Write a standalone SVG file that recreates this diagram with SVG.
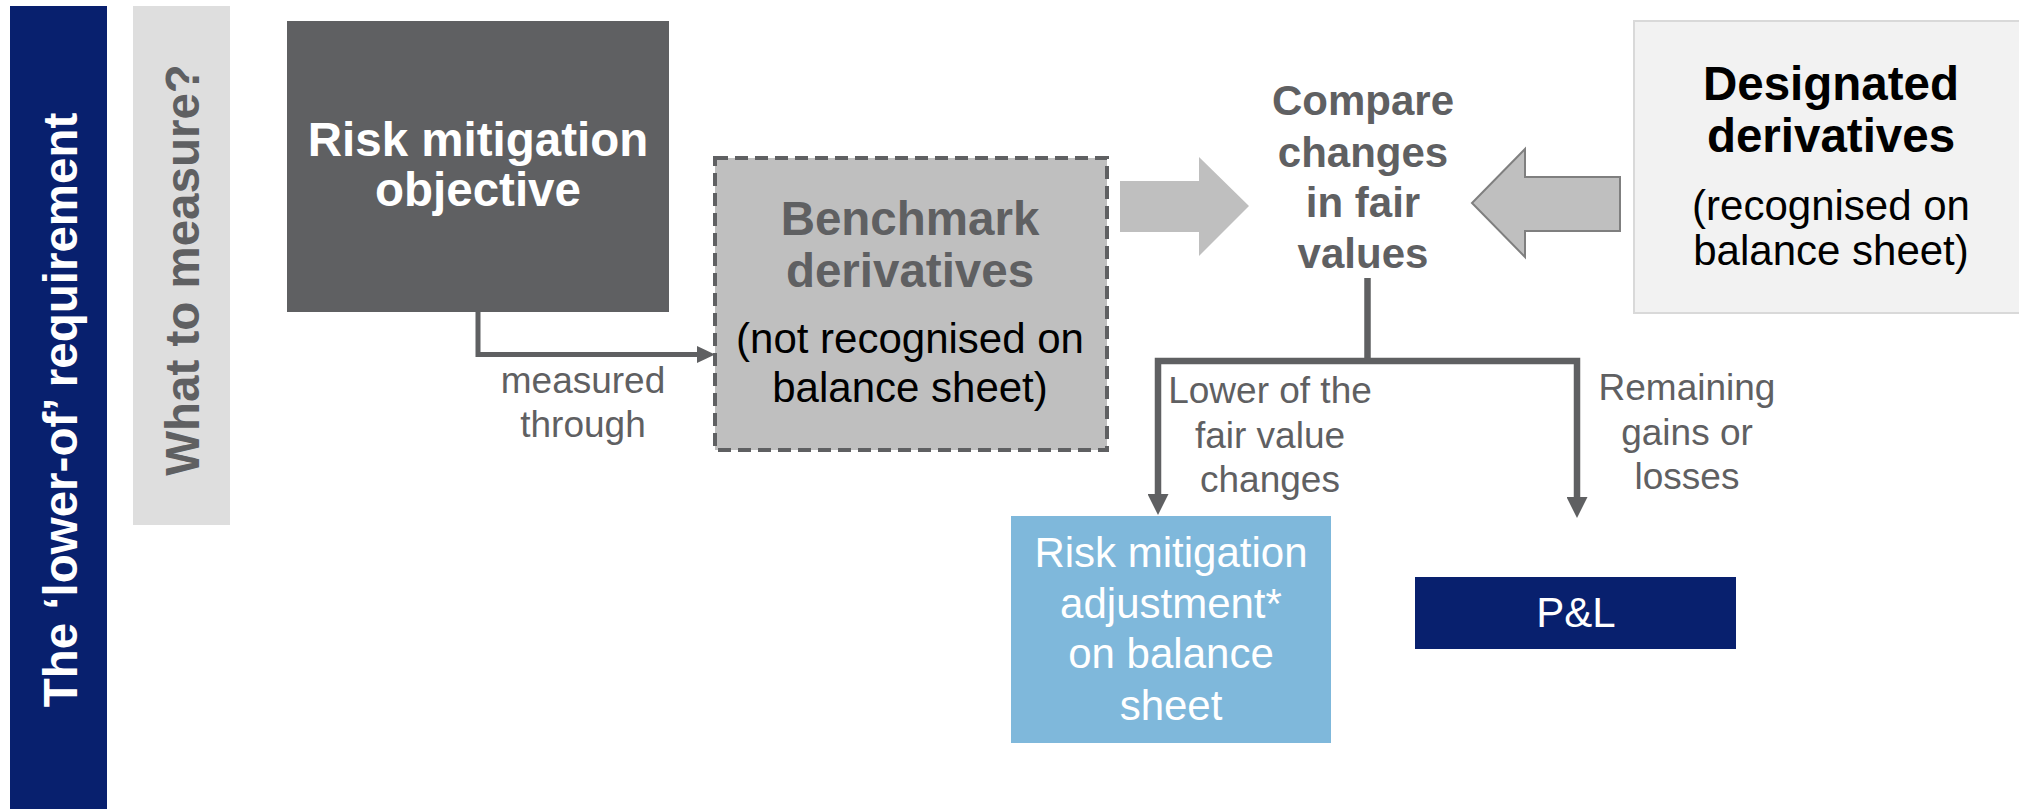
<svg xmlns="http://www.w3.org/2000/svg" width="2019" height="809" viewBox="0 0 2019 809">
<style>
text{font-family:"Liberation Sans",Arial,Helvetica,sans-serif;}
.b{font-weight:bold;}
.c{text-anchor:middle;}
.gray{fill:#5f6062;}
.wht{fill:#ffffff;}
.blk{fill:#000000;}
.con{fill:none;stroke:#5f6062;stroke-linejoin:miter;}
.block{fill:#bfbfbf;}
</style>
<defs>
<marker id="arrS" viewBox="0 0 18 17" markerWidth="18" markerHeight="17" refX="4" refY="8.5" orient="auto" markerUnits="userSpaceOnUse">
<path d="M0,0 L18,8.5 L0,17 Z" fill="#5f6062"/>
</marker>
<marker id="arrB" viewBox="0 0 21 21" markerWidth="21" markerHeight="21" refX="4" refY="10.5" orient="auto-start-reverse" markerUnits="userSpaceOnUse">
<path d="M0,0 L21,10.5 L0,21 Z" fill="#5f6062"/>
</marker>
</defs>
<rect width="2019" height="809" fill="#ffffff"/>

<g id="title-bar">
<rect x="10" y="6" width="97" height="803" fill="#08206e"/>
<text class="b wht c" font-size="47.5" transform="translate(77,410) rotate(-90)">The ‘lower-of’ requirement</text>
</g>

<g id="what-to-measure">
<rect x="133" y="6" width="97" height="519" fill="#dedede"/>
<text class="b gray c" font-size="47.5" transform="translate(199,270) rotate(-90)">What to measure?</text>
</g>

<g id="risk-mitigation-objective">
<rect x="287" y="21" width="382" height="291" fill="#5f6062"/>
<text class="b wht c" font-size="47.5"><tspan x="478" y="156">Risk mitigation</tspan><tspan x="478" y="206">objective</tspan></text>
</g>

<g id="benchmark-derivatives">
<rect x="715" y="158" width="392" height="292" fill="#bfbfbf" stroke="#5f6062" stroke-width="4" stroke-dasharray="13 7"/>
<text class="b gray c" font-size="47.5"><tspan x="910" y="235">Benchmark</tspan><tspan x="910" y="287">derivatives</tspan></text>
<text class="blk c" font-size="42"><tspan x="910" y="353">(not recognised on</tspan><tspan x="910" y="402">balance sheet)</tspan></text>
</g>

<g id="compare">
<text class="b gray c" font-size="42"><tspan x="1363" y="115">Compare</tspan><tspan x="1363" y="167">changes</tspan><tspan x="1363" y="217">in fair</tspan><tspan x="1363" y="268">values</tspan></text>
</g>

<g id="designated-derivatives">
<rect x="1634" y="21" width="400" height="292" fill="#f2f2f2" stroke="#d9d9d9" stroke-width="2"/>
<text class="b blk c" font-size="47.5"><tspan x="1831" y="100">Designated</tspan><tspan x="1831" y="152">derivatives</tspan></text>
<text class="blk c" font-size="42"><tspan x="1831" y="220">(recognised on</tspan><tspan x="1831" y="265">balance sheet)</tspan></text>
</g>

<g id="risk-mitigation-adjustment">
<rect x="1011" y="516" width="320" height="227" fill="#7fb8db"/>
<text class="wht c" font-size="42"><tspan x="1171" y="567">Risk mitigation</tspan><tspan x="1171" y="618">adjustment*</tspan><tspan x="1171" y="668">on balance</tspan><tspan x="1171" y="720">sheet</tspan></text>
</g>

<g id="pl">
<rect x="1415" y="577" width="321" height="72" fill="#08206e"/>
<text class="wht c" font-size="42" x="1576" y="627">P&amp;L</text>
</g>

<g id="connectors">
<path class="con" stroke-width="5" d="M478,312 V354.5 H701" marker-end="url(#arrS)"/>
<path class="block" d="M1120,181 H1199 V157 L1249,206 L1199,256 V232 H1120 Z"/>
<path class="block" d="M1620,177 H1525 V149 L1472,203 L1525,257 V231 H1620 Z" stroke="#7f7f7f" stroke-width="2"/>
<path class="con" stroke-width="6.5" d="M1367.5,278 V361"/>
<path class="con" stroke-width="6.5" d="M1158,498 V361 H1577 V501" marker-start="url(#arrB)" marker-end="url(#arrB)"/>
<text class="gray c" font-size="37"><tspan x="583" y="393">measured</tspan><tspan x="583" y="437">through</tspan></text>
<text class="gray c" font-size="37"><tspan x="1270" y="403">Lower of the</tspan><tspan x="1270" y="448">fair value</tspan><tspan x="1270" y="492">changes</tspan></text>
<text class="gray c" font-size="37"><tspan x="1687" y="400">Remaining</tspan><tspan x="1687" y="445">gains or</tspan><tspan x="1687" y="489">losses</tspan></text>
</g>
</svg>
